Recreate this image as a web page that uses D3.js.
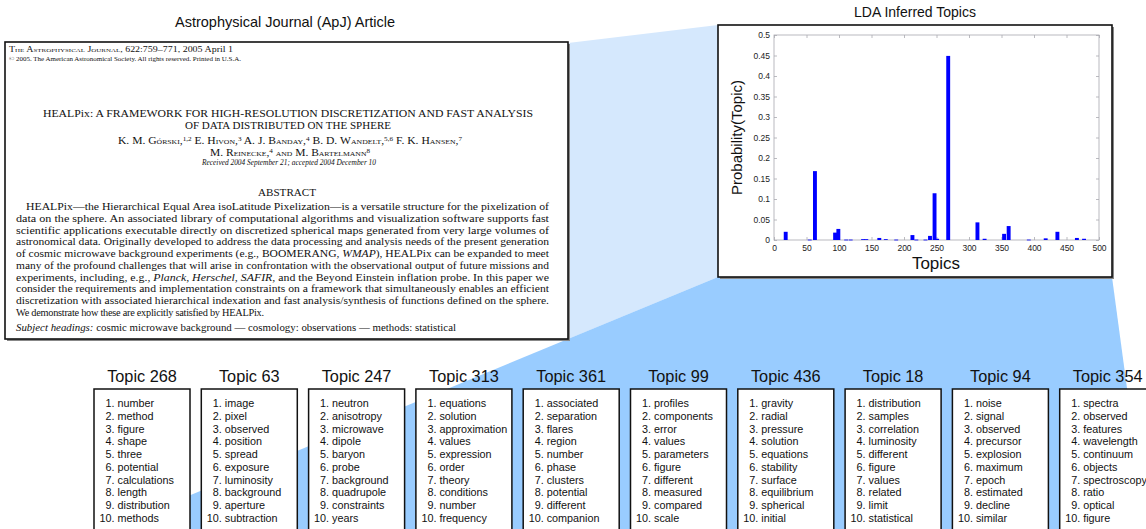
<!DOCTYPE html>
<html><head><meta charset="utf-8">
<script src="https://cdn.jsdelivr.net/npm/d3@7"></script>
<style>
html,body{margin:0;padding:0;background:#fff;overflow:hidden}
svg{display:block}
.sans{font-family:"Liberation Sans",Arial,Helvetica,sans-serif}
.serif{font-family:"Liberation Serif","Times New Roman",serif}
</style></head>
<body>
<svg id="fig" width="1146" height="529"></svg>
<script>
// ---------- DATA ----------
const topicIds   = [18, 55, 63, 94, 99, 111, 118, 137, 142, 162, 172, 188, 213, 219, 233, 240, 247, 251, 268, 313, 324, 354, 361, 392, 418, 436, 466, 477];
const topicProbs = [0.020, 0.001, 0.168, 0.018, 0.027, 0.001, 0.001, 0.002, 0.002, 0.005, 0.002, 0.001, 0.012, 0.001, 0.001, 0.010, 0.114, 0.003, 0.449, 0.043, 0.003, 0.015, 0.034, 0.001, 0.004, 0.020, 0.005, 0.003];
const xTicks = [0, 50, 100, 150, 200, 250, 300, 350, 400, 450, 500];
const yTicks = [0, 0.05, 0.1, 0.15, 0.2, 0.25, 0.3, 0.35, 0.4, 0.45, 0.5];
const yTickLabels = ["0", "0.05", "0.1", "0.15", "0.2", "0.25", "0.3", "0.35", "0.4", "0.45", "0.5"];

const topTopics = [268, 63, 247, 313, 361, 99, 436, 18, 94, 354];
const topicWords = [
  ["number","method","figure","shape","three","potential","calculations","length","distribution","methods"],
  ["image","pixel","observed","position","spread","exposure","luminosity","background","aperture","subtraction"],
  ["neutron","anisotropy","microwave","dipole","baryon","probe","background","quadrupole","constraints","years"],
  ["equations","solution","approximation","values","expression","order","theory","conditions","number","frequency"],
  ["associated","separation","flares","region","number","phase","clusters","potential","different","companion"],
  ["profiles","components","error","values","parameters","figure","different","measured","compared","scale"],
  ["gravity","radial","pressure","solution","equations","stability","surface","equilibrium","spherical","initial"],
  ["distribution","samples","correlation","luminosity","different","figure","values","related","limit","statistical"],
  ["noise","signal","observed","precursor","explosion","maximum","epoch","estimated","decline","similar"],
  ["spectra","observed","features","wavelength","continuum","objects","spectroscopy","ratio","optical","figure"]
];

const abstractLines = [
  "HEALPix—the Hierarchical Equal Area isoLatitude Pixelization—is a versatile structure for the pixelization of",
  "data on the sphere. An associated library of computational algorithms and visualization software supports fast",
  "scientific applications executable directly on discretized spherical maps generated from very large volumes of",
  "astronomical data. Originally developed to address the data processing and analysis needs of the present generation",
  "of cosmic microwave background experiments (e.g., BOOMERANG, *WMAP*), HEALPix can be expanded to meet",
  "many of the profound challenges that will arise in confrontation with the observational output of future missions and",
  "experiments, including, e.g., *Planck*, *Herschel*, *SAFIR*, and the Beyond Einstein inflation probe. In this paper we",
  "consider the requirements and implementation constraints on a framework that simultaneously enables an efficient",
  "discretization with associated hierarchical indexation and fast analysis/synthesis of functions defined on the sphere.",
  "We demonstrate how these are explicitly satisfied by HEALPix."
];
const subjectLine = "*Subject headings:* cosmic microwave background — cosmology: observations — methods: statistical";
const paperTitle = ["HEALPix: A FRAMEWORK FOR HIGH-RESOLUTION DISCRETIZATION AND FAST ANALYSIS", "OF DATA DISTRIBUTED ON THE SPHERE"];

// ---------- LAYOUT ----------
const svg = d3.select("#fig");
const art = {x0: 5, y0: 42, x1: 568, y1: 339};
const chartBox = {x0: 718, y0: 25, x1: 1112, y1: 277};
const boxTop = 389, boxW = 96, boxStep = 107.3, boxLeft0 = 94;

// background wedges
const slope = (art.y1 - chartBox.y1) / (art.x1 - chartBox.x0); // negative
const botY = 529;
const botX = chartBox.x0 + (botY - chartBox.y1) / slope;
svg.append("polygon")
  .attr("points", [[art.x1, art.y0 + 1], [chartBox.x0, chartBox.y0], [chartBox.x0, chartBox.y1], [art.x1, art.y1]].join(" "))
  .attr("fill", "#d5e8fd");
svg.append("polygon")
  .attr("points", [[chartBox.x0, chartBox.y1], [chartBox.x1, chartBox.y1], [1146, botY], [botX, botY]].join(" "))
  .attr("fill", "#99ccff");

// ---------- ARTICLE ----------
svg.append("text").attr("class", "sans").attr("x", 285).attr("y", 27)
  .attr("text-anchor", "middle").attr("font-size", 14.5).attr("fill", "#111")
  .text("Astrophysical Journal (ApJ) Article");

svg.append("rect").attr("x", art.x0 + 2).attr("y", art.y0 + 2)
  .attr("width", art.x1 - art.x0).attr("height", art.y1 - art.y0).attr("fill", "#888");
svg.append("rect").attr("x", art.x0).attr("y", art.y0)
  .attr("width", art.x1 - art.x0).attr("height", art.y1 - art.y0)
  .attr("fill", "#fff").attr("stroke", "#111").attr("stroke-width", 1.6);

function richText(sel, str) {
  str.split("*").forEach((part, i) => {
    if (!part) return;
    const t = sel.append("tspan").text(part);
    if (i % 2 === 1) t.attr("font-style", "italic");
  });
}

const ser = svg.append("g").attr("class", "serif").attr("fill", "#111");
// header
const h1 = ser.append("text").attr("x", 9).attr("y", 52).attr("font-size", 7.2)
  .attr("textLength", 224).attr("lengthAdjust", "spacingAndGlyphs");
h1.append("tspan").style("font-variant", "small-caps").text("The Astrophysical Journal");
h1.append("tspan").text(", 622:759–771, 2005 April 1");
ser.append("text").attr("x", 9).attr("y", 61).attr("font-size", 6.2)
  .attr("textLength", 232).attr("lengthAdjust", "spacingAndGlyphs")
  .text("© 2005. The American Astronomical Society. All rights reserved. Printed in U.S.A.");

// title
ser.append("text").attr("x", 288).attr("y", 117).attr("text-anchor", "middle").attr("font-size", 11)
  .attr("textLength", 490).attr("lengthAdjust", "spacingAndGlyphs").text(paperTitle[0]);
ser.append("text").attr("x", 288).attr("y", 129).attr("text-anchor", "middle").attr("font-size", 11)
  .attr("textLength", 206).attr("lengthAdjust", "spacingAndGlyphs").text(paperTitle[1]);

// authors
function authorLine(y, parts, len) {
  const t = ser.append("text").attr("x", 290).attr("y", y).attr("text-anchor", "middle")
    .attr("font-size", 10.5).attr("textLength", len).attr("lengthAdjust", "spacingAndGlyphs");
  parts.forEach(p => {
    const s = t.append("tspan").text(p[0]);
    if (p[1] === "sc") s.style("font-variant", "small-caps");
    if (p[1] === "sup") s.attr("font-size", 6.5).attr("baseline-shift", "super");
  });
}
authorLine(144, [["K. M. "], ["Górski", "sc"], [",", ""], ["1,2", "sup"], [" E. "], ["Hivon", "sc"], [","], ["3", "sup"],
  [" A. J. "], ["Banday", "sc"], [","], ["4", "sup"], [" B. D. "], ["Wandelt", "sc"], [","], ["5,6", "sup"],
  [" F. K. "], ["Hansen", "sc"], [","], ["7", "sup"]], 344);
authorLine(156, [["M. "], ["Reinecke", "sc"], [","], ["4", "sup"], [" "], ["and", "sc"], [" M. "], ["Bartelmann", "sc"], ["8", "sup"]], 160);
ser.append("text").attr("x", 289).attr("y", 165).attr("text-anchor", "middle").attr("font-size", 7.5)
  .attr("font-style", "italic").attr("textLength", 174).attr("lengthAdjust", "spacingAndGlyphs")
  .text("Received 2004 September 21; accepted 2004 December 10");

ser.append("text").attr("x", 287).attr("y", 196).attr("text-anchor", "middle").attr("font-size", 10)
  .attr("textLength", 58).attr("lengthAdjust", "spacingAndGlyphs").text("ABSTRACT");

const absY0 = 210, absDy = 11.75;
abstractLines.forEach((line, i) => {
  const last = i === abstractLines.length - 1;
  const x0 = i === 0 ? 26 : 16;
  const t = ser.append("text").attr("x", x0).attr("y", absY0 + i * absDy).attr("font-size", 10.3);
  if (!last) t.attr("textLength", 549 - x0).attr("lengthAdjust", "spacingAndGlyphs");
  else t.attr("textLength", 248).attr("lengthAdjust", "spacing");
  richText(t, line);
});
const subj = ser.append("text").attr("x", 16).attr("y", absY0 + abstractLines.length * absDy + 3)
  .attr("font-size", 10.2).attr("textLength", 440).attr("lengthAdjust", "spacingAndGlyphs");
richText(subj, subjectLine);

// ---------- CHART ----------
svg.append("text").attr("class", "sans").attr("x", 915).attr("y", 17)
  .attr("text-anchor", "middle").attr("font-size", 14).attr("fill", "#111").text("LDA Inferred Topics");
svg.append("rect").attr("x", chartBox.x0 + 2).attr("y", chartBox.y0 + 2)
  .attr("width", chartBox.x1 - chartBox.x0).attr("height", chartBox.y1 - chartBox.y0).attr("fill", "#888");
svg.append("rect").attr("x", chartBox.x0).attr("y", chartBox.y0)
  .attr("width", chartBox.x1 - chartBox.x0).attr("height", chartBox.y1 - chartBox.y0)
  .attr("fill", "#fff").attr("stroke", "#111").attr("stroke-width", 1.6);

const x = d3.scaleLinear().domain([0, 500]).range([774, 1099]);
const y = d3.scaleLinear().domain([0, 0.5]).range([240, 35]);
const axCol = "#a9a9b0";
const plot = svg.append("g").attr("class", "sans");

// frame
plot.append("rect").attr("x", x(0)).attr("y", y(0.5)).attr("width", x(500) - x(0)).attr("height", y(0) - y(0.5))
  .attr("fill", "none").attr("stroke", axCol).attr("stroke-width", 0.8);

// axes (ticks inward)
const xAxB = d3.axisBottom(x).tickValues(xTicks).tickSize(-3).tickPadding(5).tickFormat(d3.format("d"));
const xAxT = d3.axisTop(x).tickValues(xTicks).tickSize(-3).tickFormat("");
const yAxL = d3.axisLeft(y).tickValues(yTicks).tickSize(-3).tickPadding(4).tickFormat((d, i) => yTickLabels[i]);
const yAxR = d3.axisRight(y).tickValues(yTicks).tickSize(-3).tickFormat("");
function styleAx(g) {
  g.select(".domain").remove();
  g.selectAll(".tick line").attr("stroke", axCol).attr("stroke-width", 0.8);
  g.selectAll(".tick text").attr("fill", "#222").attr("font-size", 8.5)
    .attr("font-family", '"Liberation Sans",Arial,sans-serif');
}
plot.append("g").attr("transform", `translate(0,${y(0)})`).call(xAxB).call(styleAx);
plot.append("g").attr("transform", `translate(0,${y(0.5)})`).call(xAxT).call(styleAx);
plot.append("g").attr("transform", `translate(${x(0)},0)`).call(yAxL).call(styleAx);
plot.append("g").attr("transform", `translate(${x(500)},0)`).call(yAxR).call(styleAx);

// bars
const bw = x(6) - x(0);
plot.append("g").selectAll("rect").data(topicIds).join("rect")
  .attr("x", (d) => x(d) - bw / 2)
  .attr("y", (d, i) => y(topicProbs[i]))
  .attr("width", bw)
  .attr("height", (d, i) => Math.max(0.8, y(0) - y(topicProbs[i])))
  .attr("fill", "#0000ff");

plot.append("text").attr("x", 936).attr("y", 269).attr("text-anchor", "middle")
  .attr("font-size", 17).attr("fill", "#111").text("Topics");
plot.append("text").attr("transform", `translate(742,${(y(0) + y(0.5)) / 2}) rotate(-90)`)
  .attr("text-anchor", "middle").attr("font-size", 15).attr("fill", "#111").text("Probability(Topic)");

// ---------- TOPIC BOXES ----------
const tb = svg.append("g").attr("class", "sans").attr("fill", "#111");
topTopics.forEach((tp, k) => {
  const bx = boxLeft0 + k * boxStep;
  tb.append("text").attr("x", bx + boxW / 2).attr("y", 382).attr("text-anchor", "middle")
    .attr("font-size", 16.3).text("Topic " + tp);
  tb.append("rect").attr("x", bx).attr("y", boxTop).attr("width", boxW).attr("height", 160)
    .attr("fill", "#fff").attr("stroke", "#111").attr("stroke-width", 1.5);
  topicWords[k].forEach((w, j) => {
    const yy = 407 + j * 12.75;
    tb.append("text").attr("x", bx + 20.5).attr("y", yy).attr("text-anchor", "end")
      .attr("font-size", 10.8).text((j + 1) + ".");
    tb.append("text").attr("x", bx + 23.5).attr("y", yy).attr("font-size", 10.8).text(w);
  });
});
</script>
</body></html>
